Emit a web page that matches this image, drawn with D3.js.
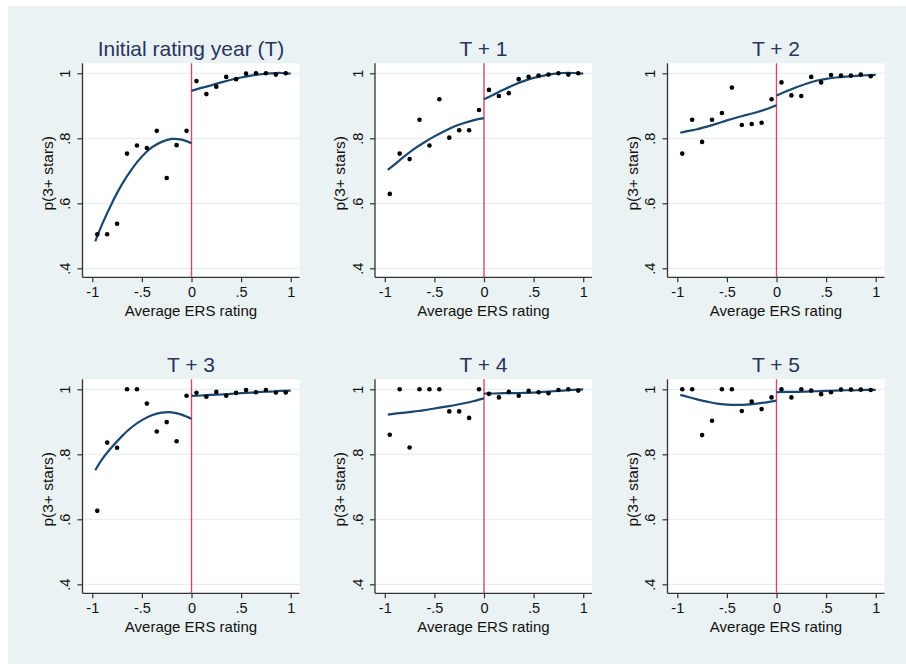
<!DOCTYPE html>
<html>
<head>
<meta charset="utf-8">
<script src="https://cdn.jsdelivr.net/npm/d3@7"></script>
<style>
  body { margin: 0; background: #fff; }
  text { font-family: Arial, "Liberation Sans", sans-serif; }
</style>
</head>
<body>
<div id="chart"></div>
<script>
// bin midpoints of the running variable
const binX = [-0.95, -0.85, -0.75, -0.65, -0.55, -0.45, -0.35, -0.25, -0.15, -0.05,
              0.05, 0.15, 0.25, 0.35, 0.45, 0.55, 0.65, 0.75, 0.85, 0.95];

const panelTitles = ["Initial rating year (T)", "T + 1", "T + 2", "T + 3", "T + 4", "T + 5"];

// binned means, p(3+ stars)
const binT0 = [0.505, 0.505, 0.537, 0.753, 0.778, 0.770, 0.823, 0.678, 0.779, 0.823,
               0.976, 0.936, 0.959, 0.989, 0.982, 0.999, 1.000, 1.000, 0.996, 1.000];
const binT1 = [0.629, 0.753, 0.736, 0.857, 0.778, 0.920, 0.802, 0.825, 0.825, 0.887,
               0.949, 0.930, 0.939, 0.982, 0.989, 0.993, 0.996, 1.000, 0.996, 1.000];
const binT2 = [0.753, 0.857, 0.789, 0.857, 0.878, 0.956, 0.841, 0.844, 0.848, 0.920,
               0.972, 0.932, 0.930, 0.989, 0.972, 0.995, 0.993, 0.993, 0.996, 0.991];
const binT3 = [0.626, 0.836, 0.820, 1.000, 1.000, 0.956, 0.870, 0.899, 0.840, 0.980,
               0.989, 0.977, 0.992, 0.980, 0.989, 0.998, 0.991, 0.998, 0.990, 0.990];
const binT4 = [0.860, 1.000, 0.821, 1.000, 1.000, 1.000, 0.932, 0.932, 0.912, 1.000,
               0.986, 0.975, 0.992, 0.980, 0.995, 0.991, 0.988, 0.998, 1.000, 0.996];
const binT5 = [1.000, 1.000, 0.859, 0.903, 1.000, 1.000, 0.933, 0.962, 0.939, 0.975,
               1.000, 0.975, 1.000, 0.996, 0.985, 0.991, 0.999, 0.999, 0.999, 0.998];

// fitted curves, read at these x positions on each side of the cutoff
const fitLeftX  = [-0.97, -0.9, -0.8, -0.7, -0.6, -0.5, -0.4, -0.3, -0.2, -0.1, 0];
const fitRightX = [0, 0.1, 0.2, 0.3, 0.4, 0.5, 0.6, 0.7, 0.8, 0.9, 1.0];

const fitLeftT0 = [0.483, 0.536, 0.602, 0.659, 0.706, 0.744, 0.772, 0.789, 0.798, 0.796, 0.785];
const fitLeftT1 = [0.703, 0.720, 0.745, 0.768, 0.788, 0.806, 0.822, 0.836, 0.847, 0.856, 0.862];
const fitLeftT2 = [0.817, 0.822, 0.828, 0.836, 0.845, 0.855, 0.864, 0.872, 0.880, 0.890, 0.902];
const fitLeftT3 = [0.751, 0.785, 0.823, 0.856, 0.884, 0.905, 0.920, 0.928, 0.929, 0.922, 0.909];
const fitLeftT4 = [0.922, 0.925, 0.928, 0.932, 0.936, 0.941, 0.946, 0.951, 0.957, 0.964, 0.972];
const fitLeftT5 = [0.983, 0.977, 0.969, 0.962, 0.956, 0.953, 0.952, 0.953, 0.956, 0.960, 0.965];

const fitRightT0 = [0.946, 0.955, 0.963, 0.972, 0.980, 0.987, 0.993, 0.997, 1.000, 1.001, 0.999];
const fitRightT1 = [0.920, 0.935, 0.950, 0.964, 0.976, 0.986, 0.993, 0.998, 1.001, 1.001, 0.999];
const fitRightT2 = [0.932, 0.945, 0.957, 0.968, 0.977, 0.983, 0.987, 0.990, 0.992, 0.994, 0.995];
const fitRightT3 = [0.980, 0.981, 0.983, 0.984, 0.986, 0.988, 0.990, 0.992, 0.993, 0.995, 0.996];
const fitRightT4 = [0.987, 0.987, 0.988, 0.988, 0.989, 0.990, 0.992, 0.994, 0.996, 0.998, 1.000];
const fitRightT5 = [0.991, 0.992, 0.992, 0.993, 0.994, 0.995, 0.996, 0.997, 0.997, 0.998, 0.998];

const xTicks = [-1, -0.5, 0, 0.5, 1];
const yTicks = [0.4, 0.6, 0.8, 1];

const bins = [binT0, binT1, binT2, binT3, binT4, binT5];
const fitsLeft = [fitLeftT0, fitLeftT1, fitLeftT2, fitLeftT3, fitLeftT4, fitLeftT5];
const fitsRight = [fitRightT0, fitRightT1, fitRightT2, fitRightT3, fitRightT4, fitRightT5];

// stata-style number format: ".8", "-.5", "1"
const fmt = v => String(v).replace(/^(-?)0\./, "$1.");

var width = 906, height = 664;
var plotW = 217, plotH = 214;
var colStep = 292.5, rowStep = 316;
var origin = {x: 82.5, y: 63.3};

var svg = d3.select("#chart").append("svg")
    .attr("width", width)
    .attr("height", height);

// outer graph region
svg.append("rect")
    .attr("x", 8).attr("y", 6)
    .attr("width", width - 8).attr("height", height - 6)
    .attr("fill", "#eaf2f3");

var x = d3.scaleLinear().domain([-1, 1]).range([9.8, 208.2]);
var y = d3.scaleLinear().domain([0.4, 1]).range([205, 10]);

var line = d3.line()
    .x(d => x(d[0]))
    .y(d => y(d[1]))
    .curve(d3.curveCatmullRom);

panelTitles.forEach((title, i) => {
  var col = i % 3, row = Math.floor(i / 3);
  var g = svg.append("g")
      .attr("transform", "translate(" + (origin.x + col * colStep) + "," + (origin.y + row * rowStep) + ")");

  g.append("rect")
      .attr("width", plotW).attr("height", plotH)
      .attr("fill", "#fff");

  // gridlines
  g.selectAll(".grid")
      .data(yTicks)
    .enter().append("line")
      .attr("x1", 0).attr("x2", plotW)
      .attr("y1", d => y(d)).attr("y2", d => y(d))
      .attr("stroke", "#e3ecee")
      .attr("stroke-width", 1);

  // axes
  var yAxis = g.append("g")
      .call(d3.axisLeft(y).tickValues(yTicks).tickFormat(fmt).tickSize(5));
  var xAxis = g.append("g")
      .attr("transform", "translate(0," + plotH + ")")
      .call(d3.axisBottom(x).tickValues(xTicks).tickFormat(fmt).tickSize(5).tickPadding(4));

  [yAxis, xAxis].forEach(ax => {
    ax.select(".domain").attr("stroke", "#333").attr("stroke-width", 1.3)
      .attr("d", ax === yAxis ? "M0,0V" + plotH : "M0,0H" + plotW);
    ax.selectAll(".tick line").attr("stroke", "#333").attr("stroke-width", 1.2);
    ax.selectAll(".tick text").attr("fill", "#111").style("font-size", "14.5px")
      .style("font-family", "Arial, 'Liberation Sans', sans-serif");
  });
  // y labels run vertically, as stata draws them
  yAxis.selectAll(".tick text")
      .attr("x", null).attr("dy", null)
      .attr("transform", "translate(-12.5,0) rotate(-90)")
      .style("text-anchor", "middle");

  // cutoff
  g.append("line")
      .attr("x1", x(0)).attr("x2", x(0))
      .attr("y1", 0).attr("y2", plotH)
      .attr("stroke", "#d4486a")
      .attr("stroke-width", 1.4);

  // fitted lines either side of the cutoff
  g.append("path")
      .datum(fitLeftX.map((v, k) => [v, fitsLeft[i][k]]))
      .attr("d", line)
      .attr("fill", "none").attr("stroke", "#1a476f").attr("stroke-width", 2.2);
  g.append("path")
      .datum(fitRightX.map((v, k) => [v, fitsRight[i][k]]))
      .attr("d", line)
      .attr("fill", "none").attr("stroke", "#1a476f").attr("stroke-width", 2.2);

  // binned means
  g.selectAll(".dot")
      .data(binX.map((v, k) => [v, bins[i][k]]))
    .enter().append("circle")
      .attr("cx", d => x(d[0]))
      .attr("cy", d => y(d[1]))
      .attr("r", 2.3)
      .attr("fill", "#000");

  g.append("text")
      .attr("x", plotW / 2).attr("y", -7)
      .attr("text-anchor", "middle")
      .attr("fill", "#27345f")
      .style("font-size", "21px")
      .text(title);

  g.append("text")
      .attr("x", plotW / 2).attr("y", plotH + 39)
      .attr("text-anchor", "middle")
      .attr("fill", "#111")
      .style("font-size", "15px")
      .text("Average ERS rating");

  g.append("text")
      .attr("transform", "translate(-30," + (plotH / 2 + 3) + ") rotate(-90)")
      .attr("text-anchor", "middle")
      .attr("fill", "#111")
      .style("font-size", "15.5px")
      .text("p(3+ stars)");
});
</script>
</body>
</html>
